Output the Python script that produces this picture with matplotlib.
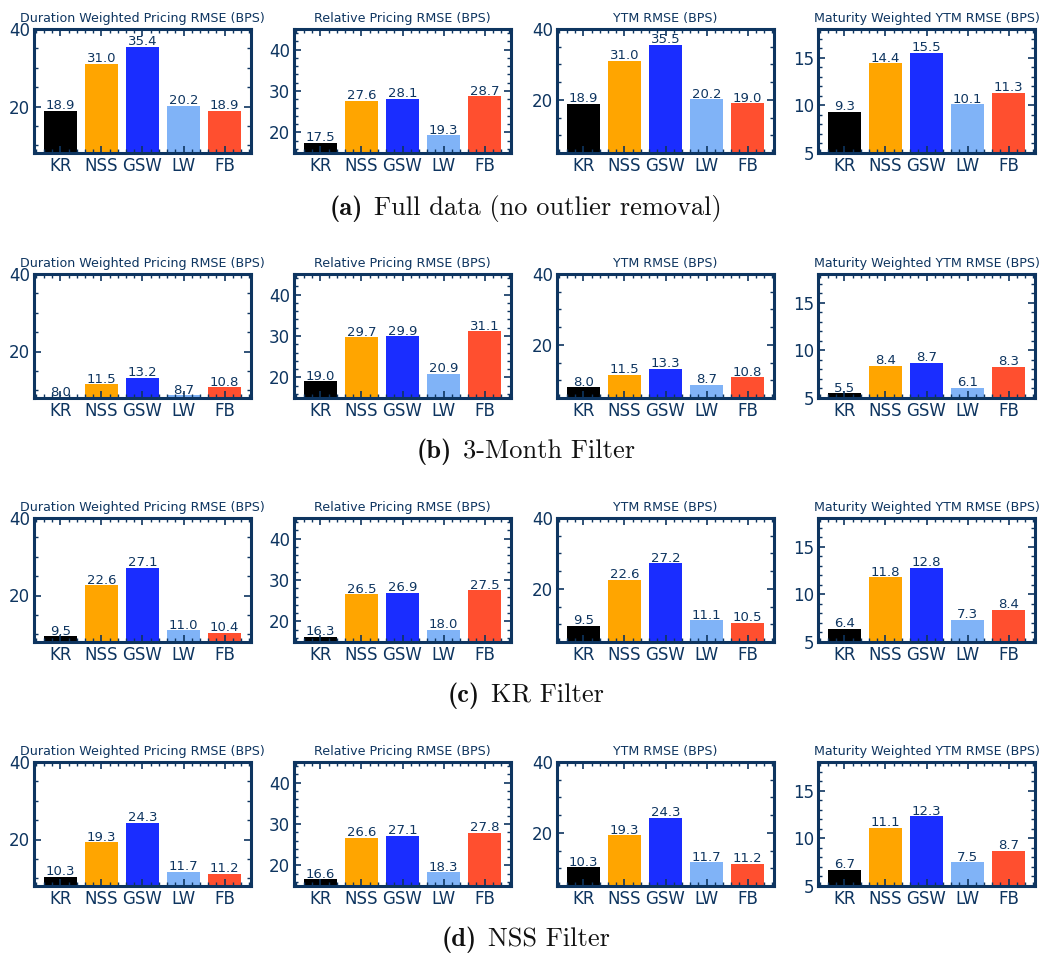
import matplotlib
matplotlib.use("Agg")
import matplotlib.pyplot as plt
from matplotlib.ticker import AutoMinorLocator, MultipleLocator
from matplotlib.offsetbox import TextArea, HPacker, AnnotationBbox

models = ["KR", "NSS", "GSW", "LW", "FB"]
colors = ["#000000", "#FFA500", "#1A2DFF", "#80B3F7", "#FF4F2F"]
navy = "#0E3560"

metrics = ["Duration Weighted Pricing RMSE (BPS)", "Relative Pricing RMSE (BPS)",
           "YTM RMSE (BPS)", "Maturity Weighted YTM RMSE (BPS)"]
ylims = [(8, 40), (15, 45), (5, 40), (5, 18)]
ysteps = [20, 10, 20, 5]

panel_tags = ["(a)", "(b)", "(c)", "(d)"]
captions = ["Full data (no outlier removal)", "3-Month Filter", "KR Filter", "NSS Filter"]

# RMSE per filter: [duration weighted, relative, ytm, maturity weighted]
full_data = [[18.9, 31.0, 35.4, 20.2, 18.9],
             [17.5, 27.6, 28.1, 19.3, 28.7],
             [18.9, 31.0, 35.5, 20.2, 19.0],
             [9.3, 14.4, 15.5, 10.1, 11.3]]
three_month = [[8.0, 11.5, 13.2, 8.7, 10.8],
               [19.0, 29.7, 29.9, 20.9, 31.1],
               [8.0, 11.5, 13.3, 8.7, 10.8],
               [5.5, 8.4, 8.7, 6.1, 8.3]]
kr_filter = [[9.5, 22.6, 27.1, 11.0, 10.4],
             [16.3, 26.5, 26.9, 18.0, 27.5],
             [9.5, 22.6, 27.2, 11.1, 10.5],
             [6.4, 11.8, 12.8, 7.3, 8.4]]
nss_filter = [[10.3, 19.3, 24.3, 11.7, 11.2],
              [16.6, 26.6, 27.1, 18.3, 27.8],
              [10.3, 19.3, 24.3, 11.7, 11.2],
              [6.7, 11.1, 12.3, 7.5, 8.7]]
rows = [full_data, three_month, kr_filter, nss_filter]

W, H = 1052, 957
fig = plt.figure(figsize=(W / 100, H / 100), dpi=100)

col_left = [34, 294, 557, 818]
row_top = [29, 274, 518, 762]
cap_y = [208, 452, 696, 940]
aw, ah = 217, 124

for r, data in enumerate(rows):
    for c in range(4):
        ax = fig.add_axes([col_left[c] / W, 1 - (row_top[r] + ah) / H, aw / W, ah / H])
        bars = ax.bar(range(len(models)), data[c], width=0.8, color=colors)
        ax.bar_label(bars, labels=[f"{v:.1f}" for v in data[c]], padding=-1,
                     fontsize=9.5, color=navy)
        ax.set_ylim(*ylims[c])
        ax.yaxis.set_major_locator(MultipleLocator(ysteps[c]))
        ax.yaxis.set_minor_locator(AutoMinorLocator())
        ax.xaxis.set_minor_locator(AutoMinorLocator())
        ax.set_xticks(range(len(models)))
        ax.set_xticklabels(models)
        ax.tick_params(which='both', direction='in', top=True, right=True,
                       colors=navy, labelsize=12)
        ax.tick_params(which='major', length=5, width=1.2, pad=3)
        ax.tick_params(which='minor', length=3, width=1)
        for s in ax.spines.values():
            s.set_color(navy)
            s.set_linewidth(2.2)
        ax.set_title(metrics[c], fontsize=9.1, color=navy, pad=5)

    # bold panel tag followed by the caption in roman
    tag = TextArea(panel_tags[r], textprops=dict(family='cmb10', size=19, color='#111111'))
    txt = TextArea(captions[r], textprops=dict(family='cmr10', size=19, color='#111111'))
    box = HPacker(children=[tag, txt], align='baseline', pad=0, sep=8)
    ab = AnnotationBbox(box, (0.5, 1 - cap_y[r] / H), xycoords='figure fraction',
                        frameon=False, box_alignment=(0.5, 0.5))
    fig.add_artist(ab)

fig.savefig("out.png", dpi=100)
